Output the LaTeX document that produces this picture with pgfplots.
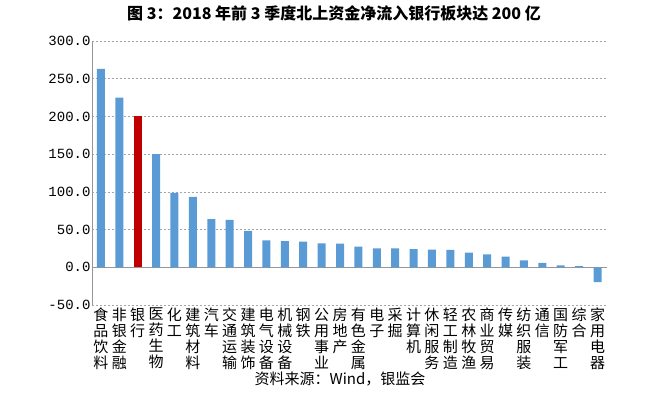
\documentclass[border=0pt]{standalone}
\usepackage{fontspec}
\usepackage{pgfplots}
\pgfplotsset{compat=1.18}
\newfontfamily\cjk{Noto Sans CJK SC}
\newfontfamily\mono{Liberation Mono}
\definecolor{barblue}{RGB}{91,155,213}
\definecolor{barred}{RGB}{192,0,0}
\definecolor{gridgray}{RGB}{165,165,165}
\definecolor{axgray}{RGB}{150,150,150}
\begin{document}
\begin{tikzpicture}
\useasboundingbox (0,0) rectangle (660bp,415bp);
\begin{axis}[
  at={(91.7bp,110bp)}, anchor=south west,
  scale only axis, width=515bp, height=264bp,
  xmin=-0.5, xmax=27.5, ymin=-50, ymax=300,
  ytick={-50,0,50,100,150,200,250,300},
  xtick={0,...,27},
  xticklabels={食\\品\\饮\\料,非\\银\\金\\融,银\\行,医\\药\\生\\物,化\\工,建\\筑\\材\\料,汽\\车,交\\通\\运\\输,建\\筑\\装\\饰,电\\气\\设\\备,机\\械\\设\\备,钢\\铁,公\\用\\事\\业,房\\地\\产,有\\色\\金\\属,电\\子,采\\掘,计\\算\\机,休\\闲\\服\\务,轻\\工\\制\\造,农\\林\\牧\\渔,商\\业\\贸\\易,传\\媒,纺\\织\\服\\装,通\\信,国\\防\\军\\工,综\\合,家\\用\\电\\器},
  xticklabel style={font=\cjk\fontsize{15bp}{16bp}\selectfont, align=center, anchor=north, inner sep=0pt, yshift=-3bp},
  yticklabel style={font=\mono\fontsize{14bp}{16bp}\selectfont, anchor=east, inner sep=1bp, xshift=0bp},
  /pgf/number format/assume math mode=true,
  /pgf/number format/.cd, fixed, fixed zerofill, precision=1, /pgfplots/.cd,
  major tick length=0pt,
  axis x line*=bottom, axis y line*=left,
  x axis line style={draw=none},
  y axis line style={axgray, -},
  ymajorgrids,
  major grid style={gridgray, dash pattern=on 2bp off 2bp, line width=0.6bp},
  extra y ticks={0}, extra y tick labels={},
  extra y tick style={major grid style={axgray, solid, line width=0.8bp}},
  ybar, bar width=8bp, bar shift=0pt,
  clip=false,
]
\addplot[fill=barblue, draw=none] coordinates {
(0,263) (1,225) (3,150) (4,98.7) (5,93.4) (6,64) (7,63) (8,48.4) (9,35.7)
(10,34.8) (11,33.9) (12,31.7) (13,31.5) (14,27.3) (15,25.1) (16,25) (17,24.2)
(18,23.3) (19,23.2) (20,19.3) (21,17.2) (22,14) (23,9.2) (24,5.7) (25,2.6)
(26,1.7) (27,-19.8)};
\addplot[fill=barred, draw=none] coordinates {(2,200.5)};
\end{axis}
\node[font=\cjk\bfseries\fontsize{16bp}{18bp}\selectfont, anchor=center] at (334bp,402bp) {图 3：2018 年前 3 季度北上资金净流入银行板块达 200 亿};
\node[font=\cjk\fontsize{15bp}{17bp}\selectfont, anchor=center] at (340bp,36bp) {资料来源：Wind，银监会};
\end{tikzpicture}
\end{document}
